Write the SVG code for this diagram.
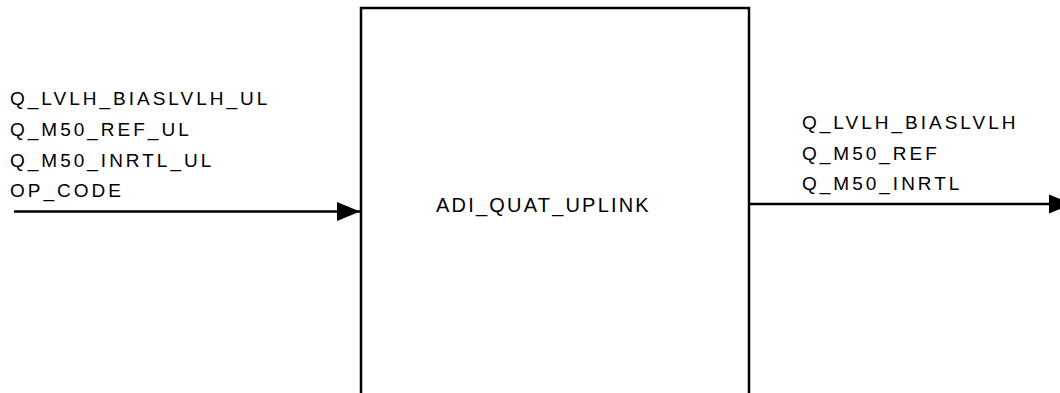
<svg xmlns="http://www.w3.org/2000/svg" width="1060" height="393" viewBox="0 0 1060 393">
<style>
.t{font-family:"Liberation Sans",Arial,sans-serif;font-size:19px;letter-spacing:3px;fill:#000}
.m{font-size:20px;letter-spacing:2.2px}
.c{stroke:#000;stroke-width:2.5;fill:none}
</style>
<defs>
<marker id="ah" markerWidth="24" markerHeight="20" refX="23" refY="10" orient="auto" markerUnits="userSpaceOnUse">
<path d="M0,0.5 L23,10 L0,19.5 Z" fill="#000"/>
</marker>
</defs>
<rect width="1060" height="393" fill="#fff"/>
<g id="node-adi">
<rect x="361" y="8" width="388" height="400" fill="#fff" stroke="#000" stroke-width="2.5"/>
<text class="t m" x="436" y="212">ADI_QUAT_UPLINK</text>
</g>
<g id="input-labels">
<text class="t" x="10" y="105">Q_LVLH_BIASLVLH_UL</text>
<text class="t" x="10" y="136">Q_M50_REF_UL</text>
<text class="t" x="10" y="167">Q_M50_INRTL_UL</text>
<text class="t" x="10" y="197">OP_CODE</text>
</g>
<g id="output-labels">
<text class="t" x="802" y="129">Q_LVLH_BIASLVLH</text>
<text class="t" x="802" y="160">Q_M50_REF</text>
<text class="t" x="802" y="190">Q_M50_INRTL</text>
</g>
<g id="connectors">
<line class="c" x1="14" y1="211.5" x2="360" y2="211.5" marker-end="url(#ah)"/>
<line class="c" x1="749" y1="204" x2="1072" y2="204" marker-end="url(#ah)"/>
</g>
</svg>
